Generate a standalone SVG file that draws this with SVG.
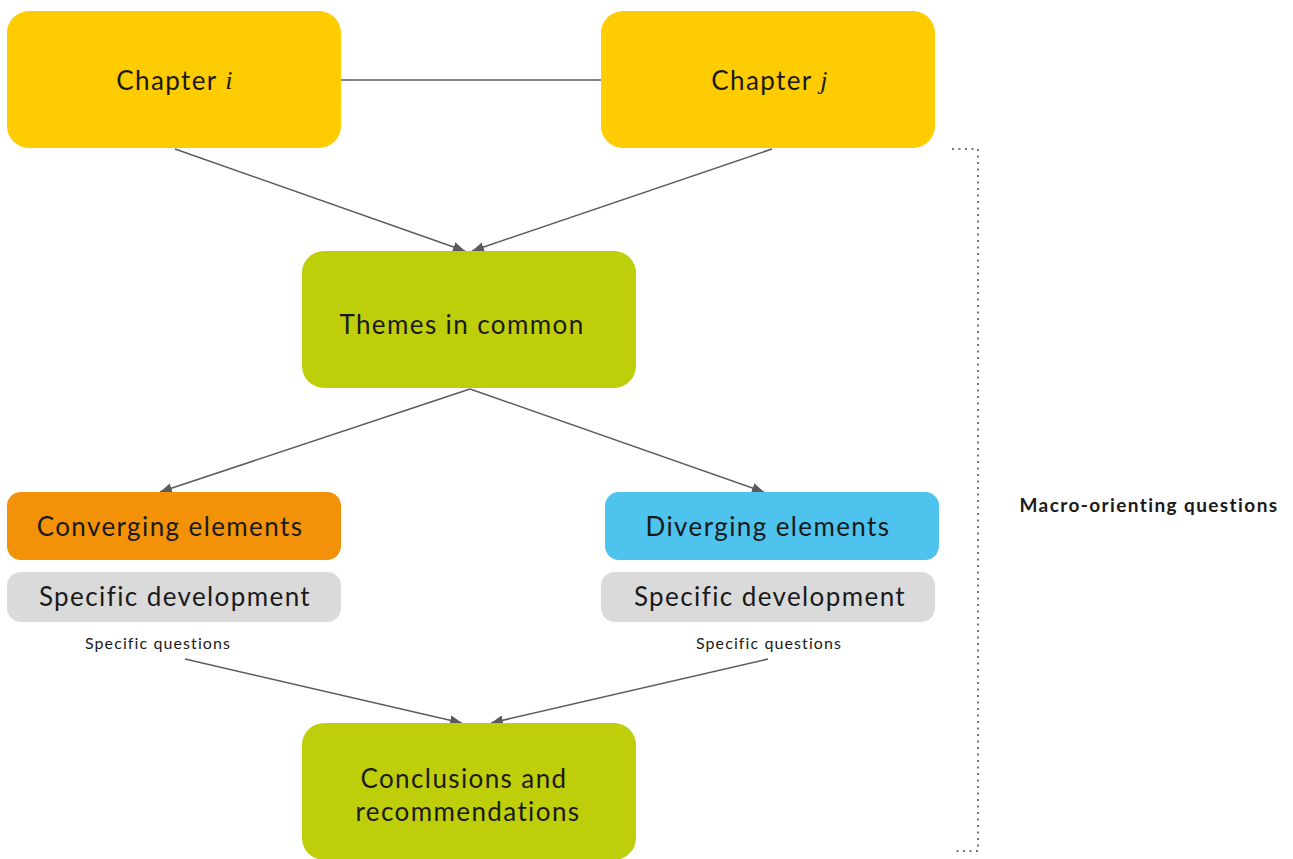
<svg xmlns="http://www.w3.org/2000/svg" width="1293" height="859" viewBox="0 0 1293 859">
<defs>
<style>
text{font-family:"Lato","Noto Sans","Liberation Sans",sans-serif;fill:#1a1a1a;text-anchor:middle;dominant-baseline:central}
.big{font-size:26px;letter-spacing:1.4px}
.sm{font-size:16px;letter-spacing:1.1px}
.conn{stroke:#5b5b5b;stroke-width:1.5;fill:none}
.i{font-family:"Liberation Serif","DejaVu Serif",serif;font-style:italic}
</style>
<marker id="ah" viewBox="0 0 12 10" refX="12" refY="5" markerWidth="12" markerHeight="10" markerUnits="userSpaceOnUse" orient="auto">
<path d="M0,0 L12,5 L0,10 z" fill="#5b5b5b"/>
</marker>
</defs>
<rect width="1293" height="859" fill="#ffffff"/>
<g id="connectors">
<line class="conn" x1="341" y1="80" x2="601" y2="80"/>
<line class="conn" x1="175" y1="149" x2="465" y2="251" marker-end="url(#ah)"/>
<line class="conn" x1="772" y1="149" x2="472" y2="251" marker-end="url(#ah)"/>
<line class="conn" x1="470" y1="389" x2="160" y2="492" marker-end="url(#ah)"/>
<line class="conn" x1="470" y1="389" x2="764" y2="492" marker-end="url(#ah)"/>
<line class="conn" x1="185" y1="659" x2="462" y2="723" marker-end="url(#ah)"/>
<line class="conn" x1="768" y1="659" x2="491" y2="723" marker-end="url(#ah)"/>
</g>
<g id="chapter-i">
<rect x="7" y="11" width="334" height="137" rx="22" fill="#FECC00"/>
<text class="big" x="175" y="80">Chapter <tspan class="i">i</tspan></text>
</g>
<g id="chapter-j">
<rect x="601" y="11" width="334" height="137" rx="22" fill="#FECC00"/>
<text class="big" x="770" y="80">Chapter <tspan class="i">j</tspan></text>
</g>
<g id="themes">
<rect x="302" y="251" width="334" height="137" rx="22" fill="#BECE0B"/>
<text class="big" x="462" y="324">Themes in common</text>
</g>
<g id="converging">
<rect x="7" y="492" width="334" height="68" rx="14" fill="#F39208"/>
<text class="big" x="170" y="526">Converging elements</text>
</g>
<g id="diverging">
<rect x="605" y="492" width="334" height="68" rx="14" fill="#4DC3EE"/>
<text class="big" x="768" y="526">Diverging elements</text>
</g>
<g id="specific-left">
<rect x="7" y="572" width="334" height="50" rx="14" fill="#DADADA"/>
<text class="big" x="175" y="596">Specific development</text>
<text class="sm" x="158" y="642">Specific questions</text>
</g>
<g id="specific-right">
<rect x="601" y="572" width="334" height="50" rx="14" fill="#DADADA"/>
<text class="big" x="770" y="596">Specific development</text>
<text class="sm" x="769" y="642">Specific questions</text>
</g>
<g id="conclusions">
<rect x="302" y="723" width="334" height="137" rx="22" fill="#BECE0B"/>
<text class="big" x="464" y="778">Conclusions and</text>
<text class="big" x="468" y="811">recommendations</text>
</g>
<g id="macro">
<path d="M952,149 H978 V851 H952" fill="none" stroke="#777" stroke-width="2" stroke-dasharray="2,4.5"/>
<text x="1149" y="504" style="font-size:19px;font-weight:bold;letter-spacing:1.4px">Macro-orienting questions</text>
</g>
</svg>
